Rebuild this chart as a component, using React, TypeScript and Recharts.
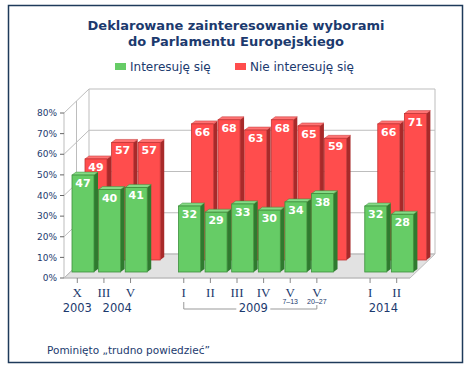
import React from 'react';
import { BarChart, Bar, XAxis, YAxis, CartesianGrid, LabelList } from 'recharts';

// chart values
const periods = ['X', 'III', 'V', '', 'I', 'II', 'III', 'IV', 'V', 'V', '', 'I', 'II'];
const subLabels = ['', '', '', '', '', '', '', '', '7–13', '20–27', '', '', ''];
const interested = [47, 40, 41, null, 32, 29, 33, 30, 34, 38, null, 32, 28];
const notInterested = [49, 57, 57, null, 66, 68, 63, 68, 65, 59, null, 66, 71];
const yAxisTicks = [0, 10, 20, 30, 40, 50, 60, 70, 80];
const years = ['2003', '2004', '2009', '2014'];
const yearFirst = [0, 1, 4, 11];
const yearLast = [0, 2, 9, 12];
const yearBracket = [false, false, true, false];

const data = periods.map((p, i) => ({
  id: `p${i}`,
  period: p,
  interested: interested[i],
  notInterested: notInterested[i],
}));

const W = 472;
const H = 372;
const MARGIN = { top: 113, right: 62, bottom: 54, left: 24 };
const PLOT_W = W - MARGIN.left - 40 - MARGIN.right;
const SLOT = PLOT_W / periods.length;
const DX = 25;
const DY = 24;
const NAVY = '#1c3a6e';
const GRID = '#bdbdbd';
const FONT = '"DejaVu Sans", Verdana, sans-serif';

const makeBar = (dx: number, dy: number, front: string, top: string, side: string, edge: string) =>
  (props: any) => {
    const { x, y, width, height } = props;
    if (height == null || height <= 0 || isNaN(y)) return <g />;
    const X = x + dx;
    const Y = y + dy;
    const d = 4;
    const e = 3;
    return (
      <g>
        <polygon
          points={`${X + width},${Y} ${X + width + d},${Y - e} ${X + width + d},${Y + height - e} ${X + width},${Y + height}`}
          fill={side}
        />
        <polygon
          points={`${X},${Y} ${X + d},${Y - e} ${X + width + d},${Y - e} ${X + width},${Y}`}
          fill={top}
          stroke={edge}
          strokeWidth={0.5}
        />
        <rect x={X} y={Y} width={width} height={height} fill={front} stroke={edge} strokeWidth={0.8} />
      </g>
    );
  };

const makeLabel = (dx: number, dy: number) => (props: any) => {
  const { x, y, width, value } = props;
  if (value == null) return null;
  return (
    <text
      x={x + width / 2 + dx}
      y={y + dy + 12}
      textAnchor="middle"
      fill="#fff"
      fontFamily={FONT}
      fontWeight="bold"
      fontSize={11}
    >
      {value}
    </text>
  );
};

const gridLine = (p: any) => {
  const { x1, y1, x2 } = p;
  const top = p.y ?? MARGIN.top;
  const bottom = top + (p.height ?? 165);
  const isBottom = Math.abs(y1 - bottom) < 1;
  return (
    <g key={p.key}>
      {isBottom && (
        <g>
          <polygon
            points={`${x1},${bottom} ${x2},${bottom} ${x2 + DX},${bottom - DY} ${x1 + DX},${bottom - DY}`}
            fill="#e2e2e2"
            stroke={GRID}
            strokeWidth={1}
          />
          <line x1={x1 + DX} y1={top - DY} x2={x1 + DX} y2={bottom - DY} stroke={GRID} />
          <line x1={x2 + DX} y1={top - DY} x2={x2 + DX} y2={bottom - DY} stroke={GRID} />
          <line x1={x1 + DX / 2} y1={top - DY / 2} x2={x1 + DX / 2} y2={bottom - DY / 2} stroke={GRID} />
        </g>
      )}
      <line x1={x1 + DX} y1={y1 - DY} x2={x2 + DX} y2={y1 - DY} stroke={GRID} />
      <line x1={x1} y1={y1} x2={x1 + DX} y2={y1 - DY} stroke={GRID} />
    </g>
  );
};

const XTick = (props: any) => {
  const { x, y, payload } = props;
  const i = payload.index ?? periods.indexOf(payload.value);
  const label = periods[i];
  const g = yearFirst.indexOf(i);
  let year = null;
  if (g >= 0) {
    const cx = x + ((yearLast[g] - yearFirst[g]) / 2) * SLOT;
    const x2 = x + (yearLast[g] - yearFirst[g]) * SLOT;
    year = (
      <g>
        <text x={cx + (yearBracket[g] ? 3 : 0)} y={y + 34} textAnchor="middle" fill={NAVY} fontFamily={FONT} fontSize={11.5}>
          {years[g]}
        </text>
        {yearBracket[g] && (
          <path
            d={`M${x},${y + 24} V${y + 31} H${cx - 14} M${cx + 20},${y + 31} H${x2} V${y + 27}`}
            fill="none"
            stroke="#999"
          />
        )}
      </g>
    );
  }
  return (
    <g>
      {label && <line x1={x} y1={y} x2={x} y2={y + 5} stroke="#888" />}
      {label && (
        <text x={x} y={y + 18.5} textAnchor="middle" fill={NAVY} fontFamily='"Liberation Serif", serif' fontSize={13}>
          {label}
        </text>
      )}
      {subLabels[i] && (
        <text x={x} y={y + 26} textAnchor="middle" fill={NAVY} fontFamily='"Liberation Sans", Arial, sans-serif' fontSize={7}>
          {subLabels[i]}
        </text>
      )}
      {year}
    </g>
  );
};

export default function App() {
  return (
    <div style={{ position: 'absolute', left: 0, top: 0, width: W, height: H, background: '#fff' }}>
      <svg width={W} height={H} style={{ position: 'absolute', left: 0, top: 0 }}>
        <rect x={8.5} y={5.5} width={454} height={357} fill="#fff" stroke="#1e3a5a" strokeWidth={1.5} />
        <text x={236} y={29.5} textAnchor="middle" fill={NAVY} fontFamily={FONT} fontWeight="bold" fontSize={13}>
          Deklarowane zainteresowanie wyborami
        </text>
        <text x={236} y={45.5} textAnchor="middle" fill={NAVY} fontFamily={FONT} fontWeight="bold" fontSize={13}>
          do Parlamentu Europejskiego
        </text>
        <rect x={115} y={63} width={11} height={7} fill="#66cc66" />
        <text x={130} y={71} fill={NAVY} fontFamily={FONT} fontSize={12}>
          Interesuję się
        </text>
        <rect x={235} y={63} width={11} height={7} fill="#ff4d4d" />
        <text x={250} y={71} fill={NAVY} fontFamily={FONT} fontSize={12}>
          Nie interesuję się
        </text>
        <text x={47} y={354} fill={NAVY} fontFamily={FONT} fontSize={10.5}>
          Pominięto „trudno powiedzieć”
        </text>
      </svg>
      <div style={{ position: 'absolute', left: 0, top: 0 }}>
        <BarChart width={W} height={H} data={data} margin={MARGIN}>
          <CartesianGrid xAxisId="front" vertical={false} horizontal={gridLine} />
          <XAxis
            xAxisId="front"
            dataKey="id"
            interval={0}
            height={40}
            tickLine={false}
            tickSize={0}
            tickMargin={0}
            axisLine={{ stroke: GRID }}
            tick={<XTick />}
          />
          <XAxis xAxisId="back" dataKey="id" hide height={0} />
          <YAxis
            domain={[0, 80]}
            ticks={yAxisTicks}
            width={40}
            tickSize={4}
            tickMargin={3}
            tickFormatter={(v: number) => `${v}%`}
            tick={{ fill: NAVY, fontSize: 9, fontFamily: FONT }}
            tickLine={{ stroke: '#666' }}
            axisLine={{ stroke: GRID }}
          />
          <Bar
            xAxisId="back"
            dataKey="notInterested"
            barSize={22}
            isAnimationActive={false}
            shape={makeBar(19, -18, '#ff4d4d', '#ff7474', '#a82a2a', '#c23434')}
          >
            <LabelList dataKey="notInterested" content={makeLabel(19, -18)} />
          </Bar>
          <Bar
            xAxisId="front"
            dataKey="interested"
            barSize={22}
            isAnimationActive={false}
            shape={makeBar(6, -6, '#66cc66', '#86da86', '#2f7a2f', '#3d8f3d')}
          >
            <LabelList dataKey="interested" content={makeLabel(6, -6)} />
          </Bar>
        </BarChart>
      </div>
    </div>
  );
}
